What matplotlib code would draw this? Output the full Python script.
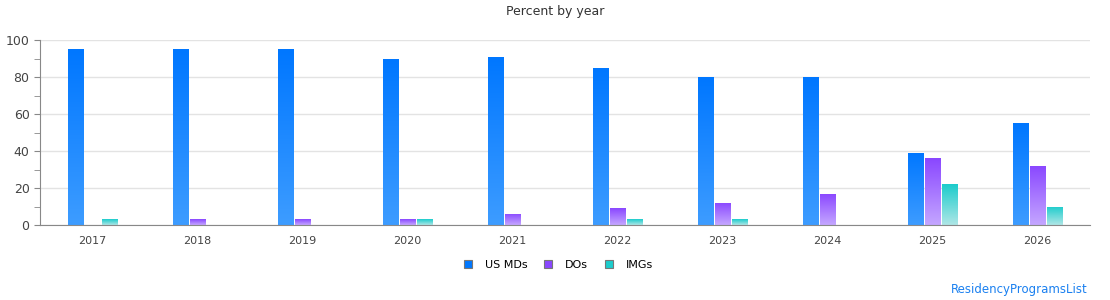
import matplotlib
matplotlib.use("Agg")
import matplotlib.pyplot as plt
import numpy as np
from matplotlib.colors import LinearSegmentedColormap
from matplotlib.lines import Line2D

years = ["2017", "2018", "2019", "2020", "2021", "2022", "2023", "2024", "2025", "2026"]
us_mds = [95, 95, 95, 90, 91, 85, 80, 80, 39, 55]
dos = [0, 3, 3, 3, 6, 9, 12, 17, 36, 32]
imgs = [3, 0, 0, 3, 0, 3, 3, 0, 22, 10]

series = [
    ("US MDs", us_mds, "#0077ff", "#3d9cff"),
    ("DOs", dos, "#8a47ff", "#c4a6ff"),
    ("IMGs", imgs, "#1ccccc", "#aee6e6"),
]

fig = plt.figure(figsize=(11.1, 3.0), dpi=100)
ax = fig.add_axes([40 / 1110, 0.25, 1050 / 1110, 185 / 300])

x = np.arange(len(years))
width = 0.152
step = 0.162

for i, (name, vals, top_c, bot_c) in enumerate(series):
    cmap = LinearSegmentedColormap.from_list(name, [bot_c, top_c])
    bars = ax.bar(x + (i - 1) * step + 0.005, vals, width, color="none",
                  edgecolor="none", zorder=2)
    # vertical gradient inside each bar
    for rect in bars:
        h = rect.get_height()
        if h <= 0:
            continue
        x0 = rect.get_x()
        grad = np.linspace(0, 1, 100).reshape(-1, 1)
        im = ax.imshow(grad, cmap=cmap, origin="lower", aspect="auto",
                       extent=(x0, x0 + rect.get_width(), 0, h), zorder=2)
        im.set_clip_path(rect)

ax.set_xlim(-0.5, len(years) - 0.5)
ax.set_ylim(0, 100)
ax.set_xticks(x)
ax.set_xticklabels(years)
ax.set_yticks(range(0, 101, 20))
ax.set_yticks(range(0, 101, 10), minor=True)
ax.grid(axis="y", color="#e3e3e3", linewidth=1, zorder=0)
ax.set_axisbelow(True)

for side in ["top", "right"]:
    ax.spines[side].set_visible(False)
for side in ["left", "bottom"]:
    ax.spines[side].set_color("#888888")
    ax.spines[side].set_zorder(4)
ax.tick_params(axis="y", which="both", colors="#888888", labelcolor="#444444",
               labelsize=9, length=4)
ax.tick_params(axis="x", length=0, labelcolor="#444444", labelsize=8, pad=8)

fig.text(0.5, 1 - 12 / 300, "Percent by year", ha="center", va="center",
         fontsize=9, color="#333333")

handles = [Line2D([], [], marker="s", linestyle="none", markersize=6,
                  markerfacecolor=top_c, markeredgecolor="#777777",
                  markeredgewidth=0.8, label=name)
           for name, _, top_c, _ in series]
fig.legend(handles=handles, loc="center", bbox_to_anchor=(0.5, 1 - 265 / 300),
           ncol=3, frameon=False, fontsize=8, handletextpad=0.5,
           columnspacing=0.9)

fig.text(1088 / 1110, 1 - 289 / 300, "ResidencyProgramsList", ha="right",
         va="center", fontsize=8.5, color="#1a80f0")

fig.savefig("out.png", dpi=100, facecolor="white")
